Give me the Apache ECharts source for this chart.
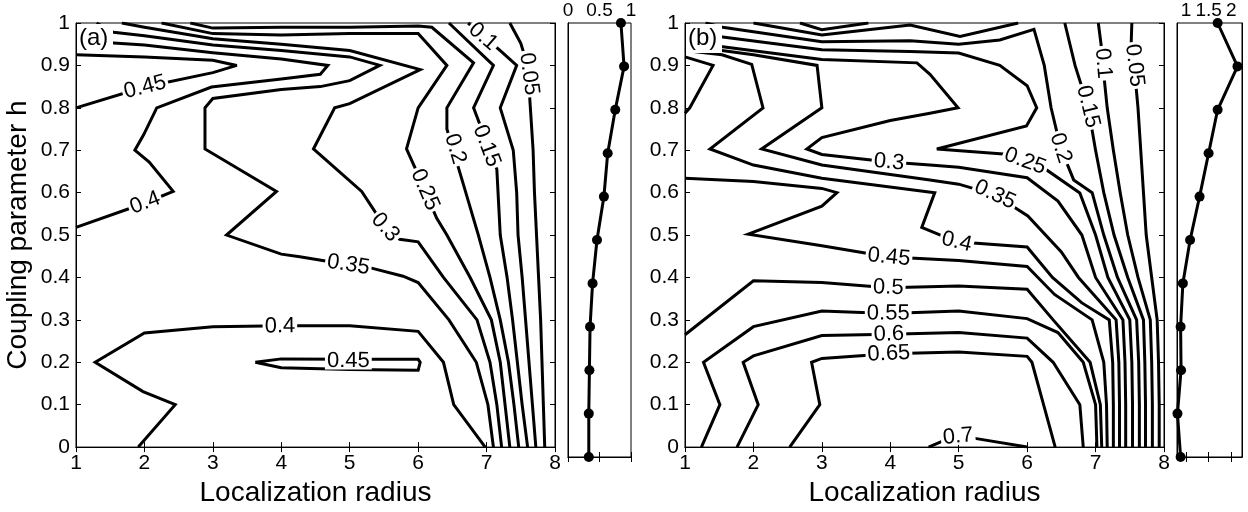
<!DOCTYPE html>
<html><head><meta charset="utf-8">
<script src="https://cdn.jsdelivr.net/npm/echarts@6/dist/echarts.min.js"></script>
<style>html,body{margin:0;padding:0;background:#fff}#c{width:1248px;height:512px}</style>
</head><body><div id="c"></div>
<script>
// ---------------- data ----------------
const hValues = [0,0.1,0.2,0.3,0.4,0.5,0.6,0.7,0.8,0.9,1];
const sideA = [0.33,0.33,0.34,0.35,0.39,0.46,0.57,0.63,0.75,0.89,0.84];
const sideB = [0.88,0.81,0.89,0.88,0.93,1.09,1.30,1.50,1.70,2.14,1.70];
const sideBTicks = [1,1.5,2];

// panel (a) contour lines, points are [localization radius, h]
const a005 = [[7.85,0],[7.83,0.1],[7.81,0.2],[7.79,0.3],[7.76,0.4],[7.73,0.5],[7.7,0.6],[7.68,0.7],[7.64,0.8],[7.6,0.9],[7.5,0.952],[7.34,1]];
const a010 = [[7.72,0],[7.67,0.1],[7.62,0.2],[7.57,0.3],[7.52,0.4],[7.46,0.5],[7.44,0.6],[7.39,0.7],[7.2,0.8],[7.44,0.9],[7.2,0.935],[6.73,1]];
const a015 = [[7.6,0],[7.52,0.1],[7.45,0.2],[7.38,0.3],[7.3,0.4],[7.2,0.5],[7.15,0.655],[6.81,0.8],[7.1,0.9],[6.45,1]];
const a020 = [[7.47,0],[7.4,0.1],[7.32,0.2],[7.2,0.3],[7.05,0.4],[6.88,0.5],[6.66,0.62],[6.42,0.75],[6.42,0.8],[6.81,0.906],[6.2,0.99],[6,0.993],[5,0.99],[4,0.99],[3,0.988],[2.67,1]];
const a025 = [[7.34,0],[7.27,0.1],[7.2,0.2],[7.07,0.3],[6.76,0.4],[6.42,0.5],[6.27,0.54],[5.95,0.66],[5.83,0.703],[6,0.8],[6.42,0.9],[6,0.975],[5,0.975],[4,0.972],[3,0.975],[2.25,1]];
const a030 = [[7.22,0],[7.15,0.1],[7.05,0.2],[6.86,0.3],[6.37,0.4],[6,0.484],[5.73,0.49],[5.52,0.518],[5.175,0.603],[4.47,0.703],[4.78,0.8],[5,0.81],[6.03,0.89],[5,0.935],[4,0.95],[3,0.963],[2,0.99],[1.67,1]];
const a035 = [[7.1,0],[7.02,0.1],[6.85,0.2],[6.45,0.3],[6,0.388],[5.78,0.403],[5.32,0.422],[4.98,0.43],[4.27,0.449],[4,0.455],[3.2,0.5],[3.93,0.603],[2.885,0.703],[2.885,0.8],[3,0.822],[4,0.843],[4.57,0.85],[5,0.864],[5.44,0.9],[5,0.92],[4,0.935],[3,0.948],[2,0.97],[1.55,0.978],[1.3,1]];
const a040a = [[1.91,0],[2.45,0.1],[1.98,0.131],[1.28,0.2],[2,0.269],[3,0.284],[4,0.286],[5,0.286],[6,0.273],[6.37,0.2],[6.52,0.1],[6.98,0]];
const a040b = [[1,0.518],[2,0.575],[2.42,0.603],[2.07,0.672],[1.86,0.7],[1.99,0.737],[2.18,0.8],[2.98,0.849],[4,0.868],[4.57,0.879],[4.68,0.9],[4,0.915],[3,0.93],[2,0.948],[1.55,0.953],[1,0.96]];
const a045a = [[1,0.8],[2,0.849],[3,0.883],[3.35,0.9],[3,0.912],[2,0.92],[1,0.925]];
const a045b = [[3.62,0.2],[4,0.208],[5,0.207],[6,0.207],[6.03,0.2],[6,0.181],[5,0.183],[4,0.187],[3.62,0.2]];

// panel (b) contour lines
const b005 = [[7.93,0],[7.93,0.1],[7.92,0.2],[7.9,0.3],[7.82,0.4],[7.74,0.5],[7.7,0.6],[7.66,0.7],[7.62,0.8],[7.56,0.906],[7.52,0.95],[7.53,1]];
const b010 = [[7.83,0],[7.83,0.1],[7.82,0.2],[7.8,0.3],[7.62,0.4],[7.47,0.5],[7.36,0.6],[7.26,0.7],[7.17,0.8],[7.1,0.91],[7.08,0.95],[7.04,1]];
const b015 = [[7.73,0],[7.73,0.1],[7.72,0.2],[7.7,0.3],[7.47,0.4],[7.27,0.5],[7.12,0.6],[7.0,0.7],[6.89,0.803],[6.7,0.9],[6.55,1]];
const b015t = [[2,1],[3,0.972],[4,0.99],[4.29,0.995],[5.02,0.968],[5.87,1]];
const b010t = [[2.68,1],[3,0.984],[3.68,1]];
const b020 = [[7.64,0],[7.64,0.1],[7.63,0.2],[7.6,0.3],[7.32,0.4],[7.12,0.5],[6.95,0.6],[6.68,0.63],[6.49,0.705],[6.35,0.8],[6.25,0.9],[6.1,0.985],[5.6,0.96],[5,0.95],[4.29,0.958],[3,0.956],[1.55,0.99],[1.3,1]];
const b025 = [[7.54,0],[7.54,0.1],[7.53,0.2],[7.5,0.3],[7.18,0.4],[7.0,0.5],[6.77,0.599],[6.29,0.653],[5.97,0.674],[5.65,0.691],[4.68,0.703],[5.99,0.757],[6.14,0.8],[6,0.852],[5.6,0.9],[5,0.929],[4.29,0.933],[3,0.937],[1.55,0.967],[1,0.975]];
const b030 = [[7.44,0],[7.44,0.1],[7.43,0.2],[7.4,0.3],[7.0,0.4],[6.8,0.5],[6.45,0.58],[6,0.635],[5,0.66],[4.58,0.665],[3.98,0.672],[3,0.69],[2.78,0.703],[3,0.73],[4,0.77],[4.58,0.787],[4.99,0.8],[4.58,0.879],[4.39,0.906],[3,0.914],[1.55,0.944],[1,0.952]];
const b035 = [[7.35,0],[7.35,0.1],[7.34,0.2],[7.3,0.3],[6.75,0.4],[6.5,0.46],[6.01,0.545],[5.53,0.595],[5,0.62],[4.58,0.63],[3,0.665],[2.12,0.703],[3,0.8],[2.93,0.9],[2,0.925],[1.54,0.935],[1,0.942]];
const b040 = [[7.26,0],[7.26,0.1],[7.25,0.2],[7.2,0.3],[6.8,0.34],[6.37,0.4],[6,0.472],[4.97,0.484],[4.46,0.518],[4.65,0.6],[3,0.634],[2,0.665],[1.365,0.703],[2.14,0.8],[1.975,0.9025],[1.54,0.925],[1,0.935]];
const b045 = [[7.17,0],[7.16,0.1],[7.12,0.2],[6.95,0.3],[6.4,0.36],[6,0.426],[5,0.44],[4.29,0.446],[3.98,0.448],[3,0.475],[1.925,0.502],[3,0.568],[3.22,0.6],[3,0.61],[2,0.626],[1,0.634]];
const b045lobe = [[1,0.92],[1.41,0.9],[1.07,0.8],[1,0.787]];
const b050 = [[1,0.265],[2,0.392],[3,0.388],[3.97,0.376],[5,0.38],[6,0.372],[6.38,0.3],[6.92,0.2],[7.07,0.1],[7.09,0]];
const b055 = [[1.24,0],[1.51,0.1],[1.27,0.2],[2,0.284],[3,0.321],[3.97,0.315],[5,0.321],[6,0.303],[6.45,0.27],[6.82,0.2],[7.0,0.1],[7.02,0]];
const b060 = [[1.76,0],[2.07,0.1],[1.85,0.2],[2,0.215],[3,0.263],[3.98,0.266],[5,0.27],[6,0.257],[6.38,0.2],[6.77,0.1],[6.82,0]];
const b065 = [[2.53,0],[2.97,0.1],[2.85,0.2],[3,0.209],[3.98,0.22],[5,0.224],[6,0.214],[6.07,0.2],[6.24,0.1],[6.41,0]];
const b070 = [[4.56,0],[4.78,0.015],[4.99,0.025],[5.26,0.02],[6,0]];

const contourA = [[0.05,a005],[0.1,a010],[0.15,a015],[0.2,a020],[0.25,a025],[0.3,a030],[0.35,a035],
  [0.4,a040a],[0.4,a040b],[0.45,a045a],[0.45,a045b]];
const contourB = [[0.05,b005],[0.1,b010],[0.1,b010t],[0.15,b015],[0.15,b015t],[0.2,b020],[0.25,b025],[0.3,b030],
  [0.35,b035],[0.4,b040],[0.45,b045],[0.45,b045lobe],[0.5,b050],[0.55,b055],[0.6,b060],[0.65,b065],[0.7,b070]];
// inline contour labels [x, h, text]
const labelsA = [[2.01,0.576,'0.4'],[2.01,0.849,'0.45'],[4.98,0.43,'0.35'],[5.52,0.518,'0.3'],[6.1,0.607,'0.25'],
  [6.54,0.703,'0.2'],[7.0,0.71,'0.15'],[6.95,0.968,'0.1'],[7.62,0.88,'0.05'],[3.98,0.285,'0.4'],[4.98,0.203,'0.45']];
const labelsB = [[3.98,0.672,'0.3'],[5.97,0.674,'0.25'],[5.53,0.595,'0.35'],[4.97,0.484,'0.4'],[3.98,0.448,'0.45'],
  [3.97,0.376,'0.5'],[3.97,0.315,'0.55'],[3.98,0.266,'0.6'],[3.98,0.22,'0.65'],[4.99,0.025,'0.7'],
  [6.49,0.705,'0.2'],[6.89,0.803,'0.15'],[7.11,0.905,'0.1'],[7.57,0.9,'0.05']];

// ---------------- chart ----------------
const FONT = 'Liberation Sans, Arial, Helvetica, sans-serif';
const chart = echarts.init(document.getElementById('c'), null, {renderer:'canvas'});
const G = [
  {left:76, top:23, width:479, height:434},
  {left:568, top:23, width:63, height:434},
  {left:685, top:23, width:479, height:434},
  {left:1177, top:23, width:65, height:434}
];
const tickIn = {show:true, inside:true, length:5, lineStyle:{color:'#000', width:1}};
const axLine = {show:true, lineStyle:{color:'#000', width:1}};
const lab = {fontSize:21, color:'#000', fontFamily:FONT};
const nameStyle = {fontSize:28, color:'#000', fontFamily:FONT};
function mainX(gi, pos, showLab, name){
  return {type:'value', gridIndex:gi, position:pos, min:1, max:8, interval:1,
    axisLine:axLine, axisTick:tickIn, splitLine:{show:false},
    axisLabel: showLab ? Object.assign({margin:6}, lab) : {show:false},
    name: name||'', nameLocation:'middle', nameGap:24, nameTextStyle:nameStyle};
}
function mainY(gi, pos, showLab, name){
  return {type:'value', gridIndex:gi, position:pos, min:0, max:1, interval:0.1,
    axisLine:axLine, axisTick:tickIn, splitLine:{show:false},
    axisLabel: showLab ? Object.assign({margin:6, formatter:v=>String(+v.toFixed(1))}, lab) : {show:false},
    name: name||'', nameLocation:'middle', nameGap:44, nameTextStyle:nameStyle};
}
function sideY(gi, pos){
  return {type:'value', gridIndex:gi, position:pos, min:0, max:1, interval:0.1,
    axisLine:axLine, axisTick:{show:false}, splitLine:{show:false}, axisLabel:{show:false}};
}
const sideLab = Object.assign({}, lab, {fontSize:19});
const xAxis = [
  mainX(0,'bottom',true,'Localization radius'),
  mainX(0,'top',false),
  {type:'value', gridIndex:1, position:'top', min:0, max:1, interval:0.5,
    axisLine:axLine, axisTick:tickIn, splitLine:{show:false},
    axisLabel:Object.assign({margin:3, formatter:v=>String(+v.toFixed(1)), showMinLabel:true, showMaxLabel:true}, sideLab)},
  {type:'value', gridIndex:1, position:'bottom', min:0, max:1, interval:0.5,
    axisLine:axLine, axisTick:tickIn, splitLine:{show:false}, axisLabel:{show:false}},
  mainX(2,'bottom',true,'Localization radius'),
  mainX(2,'top',false),
  {type:'value', gridIndex:3, position:'top', min:0.8, max:2.24,
    axisLine:axLine, splitLine:{show:false},
    axisTick:Object.assign({customValues:sideBTicks}, tickIn),
    axisLabel:Object.assign({margin:3, customValues:sideBTicks, formatter:v=>String(+(+v).toFixed(1))}, sideLab)},
  {type:'value', gridIndex:3, position:'bottom', min:0.8, max:2.24,
    axisLine:axLine, splitLine:{show:false},
    axisTick:Object.assign({customValues:sideBTicks}, tickIn), axisLabel:{show:false}}
];
const yAxis = [
  mainY(0,'left',true,'Coupling parameter h'),
  mainY(0,'right',false),
  sideY(1,'left'), sideY(1,'right'),
  mainY(2,'left',true),
  mainY(2,'right',false),
  sideY(3,'left'), sideY(3,'right')
];
const series = [];
function addContours(list, xi, yi){
  list.forEach(([lvl, pts])=>{
    series.push({type:'line', xAxisIndex:xi, yAxisIndex:yi, data:pts, showSymbol:false, symbol:'none',
      lineStyle:{color:'#000', width:3, join:'miter', miterLimit:4}, silent:true, z:2, animation:false, clip:true});
  });
}
addContours(contourA, 0, 0);
addContours(contourB, 4, 4);
function labelSeries(labels, xi, yi, rots){
  return {type:'scatter', xAxisIndex:xi, yAxisIndex:yi, symbolSize:1,
    itemStyle:{color:'rgba(255,255,255,0)', opacity:1},
    z:5, animation:false, silent:true,
    data: labels.map((l,i)=>({value:[l[0],l[1]], name:l[2], label:{rotate:rots?rots[i]:0}})),
    label:{show:true, position:'inside', formatter:p=>p.name, fontSize:22, color:'#000', opacity:1,
      textBorderWidth:0, fontFamily:FONT, backgroundColor:'#fff', padding:[0,2,0,2], lineHeight:17}};
}
const labIdxA = series.length; series.push(labelSeries(labelsA, 0, 0));
const labIdxB = series.length; series.push(labelSeries(labelsB, 4, 4));
function sideSeries(vals, xi, yi){
  return {type:'line', xAxisIndex:xi, yAxisIndex:yi, data: vals.map((v,i)=>[v, hValues[i]]),
    symbol:'circle', symbolSize:10, showSymbol:true, itemStyle:{color:'#000', opacity:1}, lineStyle:{color:'#000', width:3},
    z:3, animation:false, silent:true, clip:false};
}
series.push(sideSeries(sideA, 2, 2));
series.push(sideSeries(sideB, 6, 6));

const graphic = [
  {type:'rect', left:77, top:24, shape:{width:36, height:29}, style:{fill:'#fff'}, z:100},
  {type:'text', left:79, top:26, style:{text:'(a)', fontSize:24, fill:'#000', fontFamily:FONT}, z:101},
  {type:'rect', left:686, top:24, shape:{width:36, height:29}, style:{fill:'#fff'}, z:100},
  {type:'text', left:688, top:26, style:{text:'(b)', fontSize:24, fill:'#000', fontFamily:FONT}, z:101}
];
chart.setOption({animation:false, backgroundColor:'#fff',
  grid: G.map(g=>Object.assign({show:true, borderColor:'#000', borderWidth:1, containLabel:false}, g)),
  xAxis, yAxis, series, graphic});

// rotate each inline label along the local chord (about +-18 px) of its contour line
function rotations(labels, contours, gi){
  const HALF = 18;
  return labels.map(l=>{
    const lvl = parseFloat(l[2]);
    const c = chart.convertToPixel({gridIndex:gi}, [l[0],l[1]]);
    let best=null, bd=1e18;
    contours.forEach(([lv, pts])=>{
      if (Math.abs(lv-lvl)>1e-9) return;
      const px = pts.map(p=>chart.convertToPixel({gridIndex:gi}, p));
      const cum=[0];
      for (let i=1;i<px.length;i++) cum.push(cum[i-1]+Math.hypot(px[i][0]-px[i-1][0], px[i][1]-px[i-1][1]));
      for (let i=0;i<px.length-1;i++){
        const p=px[i], q=px[i+1];
        const dx=q[0]-p[0], dy=q[1]-p[1], L2=dx*dx+dy*dy||1;
        let t=((c[0]-p[0])*dx+(c[1]-p[1])*dy)/L2; t=Math.max(0,Math.min(1,t));
        const ex=p[0]+t*dx-c[0], ey=p[1]+t*dy-c[1], d=ex*ex+ey*ey;
        if(d<bd){bd=d; best={px, cum, s:cum[i]+t*Math.sqrt(L2)};}
      }
    });
    if(!best) return 0;
    const at = s=>{
      const {px,cum}=best; s=Math.max(0,Math.min(cum[cum.length-1],s));
      for (let i=0;i<px.length-1;i++){
        if (s<=cum[i+1]){ const f=(s-cum[i])/((cum[i+1]-cum[i])||1);
          return [px[i][0]+f*(px[i+1][0]-px[i][0]), px[i][1]+f*(px[i+1][1]-px[i][1])]; }
      }
      return px[px.length-1];
    };
    const A=at(best.s-HALF), B=at(best.s+HALF);
    let a = Math.atan2(-(B[1]-A[1]), B[0]-A[0])*180/Math.PI;
    if (a>90) a-=180; if (a<-90) a+=180;
    return a;
  });
}
const upd = series.map(()=>({}));
upd[labIdxA] = labelSeries(labelsA, 0, 0, rotations(labelsA, contourA, 0));
upd[labIdxB] = labelSeries(labelsB, 4, 4, rotations(labelsB, contourB, 2));
chart.setOption({series: upd});
</script></body></html>
